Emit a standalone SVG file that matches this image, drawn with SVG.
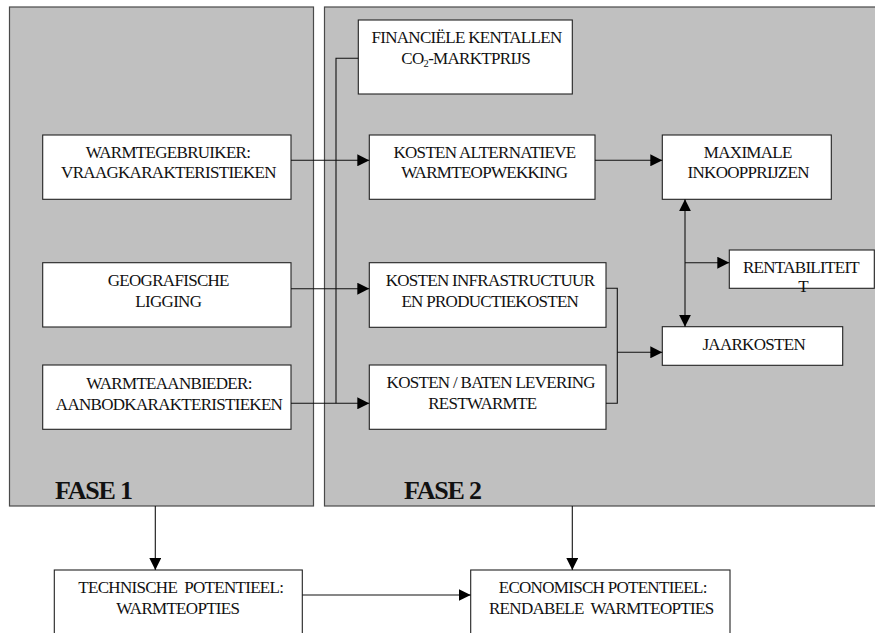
<svg xmlns="http://www.w3.org/2000/svg" width="875" height="633" viewBox="0 0 875 633">
<style>
.panel{fill:#c0c0c0;stroke:#4a4a4a;stroke-width:1.2}
.box{fill:#fff;stroke:#222;stroke-width:1.1}
.t{font-family:"Liberation Serif","Times New Roman",serif;font-size:17px;letter-spacing:-0.7px;fill:#111;text-anchor:middle;white-space:pre}
.fase{font-family:"Liberation Serif","Times New Roman",serif;font-size:26px;letter-spacing:-1.2px;font-weight:bold;fill:#111}
.c{fill:none;stroke:#111;stroke-width:1.1}
</style>
<defs>
<marker id="ah" markerUnits="userSpaceOnUse" markerWidth="12" markerHeight="12" viewBox="0 0 12 12" refX="12" refY="6" orient="auto-start-reverse">
<path d="M0,0 L12,6 L0,12 Z" fill="#000"/>
</marker>
</defs>

<g id="fase1">
<rect class="panel" x="9.5" y="7" width="304" height="499"/>
<text class="fase" x="55" y="499">FASE 1</text>
</g>
<g id="fase2">
<rect class="panel" x="324.5" y="7" width="560" height="499"/>
<text class="fase" x="404" y="499">FASE 2</text>
</g>

<g id="warmtegebruiker">
<rect class="box" x="42.7" y="135" width="248.3" height="64.3"/>
<text class="t" x="168" y="157.7">WARMTEGEBRUIKER:</text>
<text class="t" x="168.5" y="178.3">VRAAGKARAKTERISTIEKEN</text>
</g>
<g id="geografische">
<rect class="box" x="42.7" y="262.7" width="248.3" height="64.3"/>
<text class="t" x="168.3" y="286">GEOGRAFISCHE</text>
<text class="t" x="168.3" y="306.7">LIGGING</text>
</g>
<g id="warmteaanbieder">
<rect class="box" x="42.7" y="365" width="248.3" height="64.3"/>
<text class="t" x="169" y="389">WARMTEAANBIEDER:</text>
<text class="t" x="169" y="409.5">AANBODKARAKTERISTIEKEN</text>
</g>

<g id="financiele">
<rect class="box" x="358.3" y="20" width="214" height="74"/>
<text class="t" x="466.5" y="43.3">FINANCIËLE KENTALLEN</text>
<text class="t" x="465.7" y="64">CO<tspan font-size="10.5" dy="3">2</tspan><tspan dy="-3">-MARKTPRIJS</tspan></text>
</g>
<g id="kosten-alternatieve">
<rect class="box" x="369.3" y="135" width="225.7" height="64.3"/>
<text class="t" x="484.5" y="157.7">KOSTEN ALTERNATIEVE</text>
<text class="t" x="484.2" y="178.3">WARMTEOPWEKKING</text>
</g>
<g id="maximale">
<rect class="box" x="662.3" y="135" width="169" height="64.3"/>
<text class="t" x="747.8" y="157.7">MAXIMALE</text>
<text class="t" x="748.2" y="178.3">INKOOPPRIJZEN</text>
</g>
<g id="rentabiliteit">
<rect class="box" x="729.3" y="250" width="145" height="38.3"/>
<text class="t" x="801" y="273.3">RENTABILITEIT</text>
<text class="t" x="803" y="291.7">T</text>
</g>
<g id="kosten-infrastructuur">
<rect class="box" x="369.3" y="262.7" width="236.7" height="64.6"/>
<text class="t" x="490" y="285.7">KOSTEN INFRASTRUCTUUR</text>
<text class="t" x="489.8" y="306.7">EN PRODUCTIEKOSTEN</text>
</g>
<g id="kosten-baten">
<rect class="box" x="369.3" y="365" width="236.7" height="64.3"/>
<text class="t" x="490.7" y="387.7">KOSTEN / BATEN LEVERING</text>
<text class="t" x="482.3" y="409">RESTWARMTE</text>
</g>
<g id="jaarkosten">
<rect class="box" x="662.3" y="326.7" width="180.4" height="38.6"/>
<text class="t" x="753.7" y="350">JAARKOSTEN</text>
</g>

<g id="technische">
<rect class="box" x="54.3" y="570" width="248" height="70"/>
<text class="t" x="180.8" y="593.3">TECHNISCHE  POTENTIEEL:</text>
<text class="t" x="177.8" y="614.3">WARMTEOPTIES</text>
</g>
<g id="economisch">
<rect class="box" x="470.7" y="570" width="259.3" height="70"/>
<text class="t" x="602.7" y="593.3">ECONOMISCH POTENTIEEL:</text>
<text class="t" x="601.2" y="614">RENDABELE  WARMTEOPTIES</text>
</g>

<g id="connectors">
<polyline class="c" points="358.3,58.3 336,58.3 336,403.3"/>
<line class="c" x1="291" y1="160.3" x2="369.3" y2="160.3" marker-end="url(#ah)"/>
<line class="c" x1="291" y1="288.7" x2="369.3" y2="288.7" marker-end="url(#ah)"/>
<line class="c" x1="291" y1="403.3" x2="369.3" y2="403.3" marker-end="url(#ah)"/>
<line class="c" x1="595" y1="160.3" x2="662.3" y2="160.3" marker-end="url(#ah)"/>
<line class="c" x1="685" y1="199.3" x2="685" y2="326.7" marker-start="url(#ah)" marker-end="url(#ah)"/>
<line class="c" x1="685" y1="262.7" x2="729.3" y2="262.7" marker-end="url(#ah)"/>
<polyline class="c" points="606,288.3 617.3,288.3 617.3,403.3 606,403.3"/>
<line class="c" x1="617.3" y1="352.3" x2="662.3" y2="352.3" marker-end="url(#ah)"/>
<line class="c" x1="155.3" y1="506" x2="155.3" y2="570" marker-end="url(#ah)"/>
<line class="c" x1="572.3" y1="506" x2="572.3" y2="570" marker-end="url(#ah)"/>
<line class="c" x1="302.3" y1="595" x2="470.7" y2="595" marker-end="url(#ah)"/>
</g>
</svg>
